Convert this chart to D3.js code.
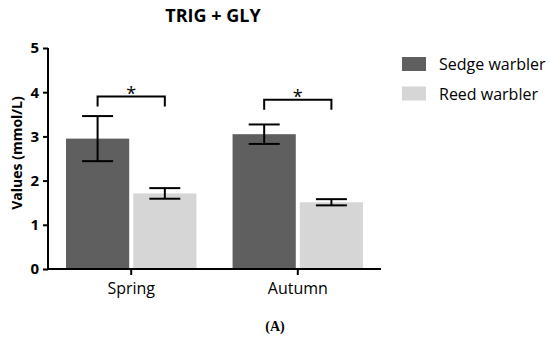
<!DOCTYPE html>
<html>
<head>
<meta charset="utf-8">
<script src="https://cdn.jsdelivr.net/npm/d3@7"></script>
<style>
  body { margin: 0; background: #fff; }
  text { font-family: "Open Sans", sans-serif; fill: #000; }
</style>
</head>
<body>
<div id="main"></div>
<script>
var width = 550;
var height = 342;
var margin = {t: 48, r: 169, b: 73, l: 48};

var categories = ['Spring', 'Autumn'];
var series = ['Sedge warbler', 'Reed warbler'];
var sedgeMeans = [2.95, 3.05];
var sedgeErrors = [0.51, 0.22];
var reedMeans = [1.71, 1.51];
var reedErrors = [0.12, 0.07];
var yTicks = [0, 1, 2, 3, 4, 5];
var sigLevels = [3.9, 3.83];
var colors = ['#5f5f5f', '#d6d6d6'];

var data = [];
categories.forEach(function(c, i) {
    data.push({cat: c, s: series[0], v: sedgeMeans[i], e: sedgeErrors[i]});
    data.push({cat: c, s: series[1], v: reedMeans[i], e: reedErrors[i]});
});

var svg = d3.select('#main').append('svg')
    .attr('width', width)
    .attr('height', height);

var chartW = width - margin.l - margin.r;
var chartH = height - margin.t - margin.b;

var x0 = d3.scaleBand().domain(categories).range([0, chartW])
    .paddingInner(0.217).paddingOuter(0.108);
var x1 = d3.scaleBand().domain(series).range([0, x0.bandwidth()]).paddingInner(0.06);
var y = d3.scaleLinear().domain([0, 5]).range([chartH, 0]);

var g = svg.append('g').attr('transform', `translate(${margin.l}, ${margin.t})`);

// bars
g.selectAll('.bar')
    .data(data)
    .enter()
    .append('rect')
    .attr('class', 'bar')
    .attr('x', function(d) { return x0(d.cat) + x1(d.s); })
    .attr('y', function(d) { return y(d.v); })
    .attr('width', x1.bandwidth())
    .attr('height', function(d) { return chartH - y(d.v); })
    .attr('fill', function(d) { return colors[series.indexOf(d.s)]; });

// error bars
var capW = 15.5;
var err = g.selectAll('.err')
    .data(data)
    .enter()
    .append('g')
    .attr('class', 'err')
    .attr('transform', function(d) {
        return `translate(${x0(d.cat) + x1(d.s) + x1.bandwidth() / 2}, 0)`;
    })
    .attr('stroke', '#000')
    .attr('stroke-width', 2);
err.append('line')
    .attr('y1', function(d) { return y(d.v + d.e); })
    .attr('y2', function(d) { return y(d.v - d.e); });
err.append('line')
    .attr('x1', -capW).attr('x2', capW)
    .attr('y1', function(d) { return y(d.v + d.e); })
    .attr('y2', function(d) { return y(d.v + d.e); });
err.append('line')
    .attr('x1', -capW).attr('x2', capW)
    .attr('y1', function(d) { return y(d.v - d.e); })
    .attr('y2', function(d) { return y(d.v - d.e); });

// significance brackets
var sig = g.selectAll('.sig')
    .data(categories)
    .enter()
    .append('g')
    .attr('class', 'sig');
sig.append('path')
    .attr('fill', 'none')
    .attr('stroke', '#000')
    .attr('stroke-width', 2)
    .attr('d', function(d, i) {
        var a = x0(d) + x1(series[0]) + x1.bandwidth() / 2;
        var b = x0(d) + x1(series[1]) + x1.bandwidth() / 2;
        var yy = y(sigLevels[i]);
        return `M${a},${yy + 10}V${yy}H${b}V${yy + 10}`;
    });
sig.append('text')
    .attr('x', function(d) { return x0(d) + x0.bandwidth() / 2; })
    .attr('y', function(d, i) { return y(sigLevels[i]) + 3; })
    .attr('text-anchor', 'middle')
    .style('font-size', '18px')
    .text('*');

// axes
var xAxis = d3.axisBottom(x0).tickSize(6).tickSizeOuter(0);
var yAxis = d3.axisLeft(y).tickValues(yTicks).tickFormat(d3.format('d'))
    .tickSize(5).tickSizeOuter(0);

var gx = g.append('g')
    .attr('transform', `translate(0, ${chartH})`)
    .call(xAxis);
gx.select('.domain').attr('stroke-width', 2).attr('d', `M-1,0H${chartW}`);
gx.selectAll('.tick line').attr('stroke-width', 2);
gx.selectAll('.tick text')
    .attr('dy', null)
    .attr('y', 25)
    .style('font-size', '16px')
    .style('font-family', '"Open Sans", sans-serif');

var gy = g.append('g').call(yAxis);
gy.select('.domain').attr('stroke-width', 2).attr('d', `M0,${chartH + 1}V0`);
gy.selectAll('.tick line').attr('stroke-width', 2);
gy.selectAll('.tick text')
    .attr('x', -9)
    .style('font-size', '15px')
    .style('font-weight', 'bold')
    .style('font-family', '"Open Sans", sans-serif');

// axis label
svg.append('text')
    .attr('transform', 'translate(22, 153) rotate(-90)')
    .attr('text-anchor', 'middle')
    .style('font-size', '14px')
    .style('font-weight', 'bold')
    .text('Values (mmol/L)');

// title
svg.append('text')
    .attr('x', 213)
    .attr('y', 22)
    .attr('text-anchor', 'middle')
    .style('font-size', '18px')
    .style('font-weight', 'bold')
    .text('TRIG + GLY');

// legend
var legend = svg.selectAll('.legend')
    .data(series)
    .enter()
    .append('g')
    .attr('class', 'legend')
    .attr('transform', function(d, i) { return `translate(402, ${57 + i * 29.5})`; });
legend.append('rect')
    .attr('width', 24)
    .attr('height', 14)
    .attr('fill', function(d, i) { return colors[i]; });
legend.append('text')
    .attr('x', 37)
    .attr('y', 13)
    .style('font-size', '16px')
    .text(function(d) { return d; });

// panel letter
svg.append('text')
    .attr('x', 275)
    .attr('y', 331)
    .attr('text-anchor', 'middle')
    .style('font-family', '"Liberation Serif", serif')
    .style('font-size', '14px')
    .style('font-weight', 'bold')
    .text('(A)');
</script>
</body>
</html>
